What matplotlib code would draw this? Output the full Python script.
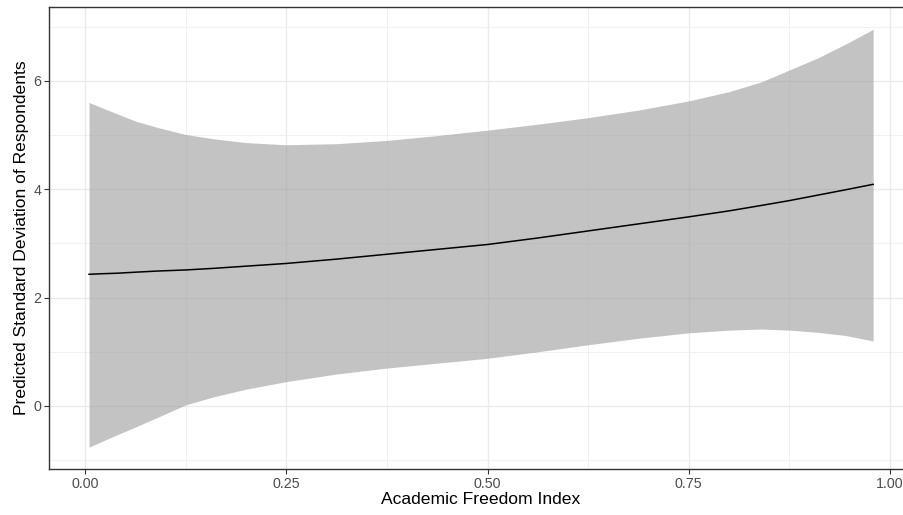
import matplotlib
matplotlib.use("Agg")
import matplotlib.pyplot as plt
from matplotlib.ticker import MultipleLocator

# Data
afi = [0.005, 0.02, 0.04, 0.064, 0.09, 0.125, 0.16, 0.2, 0.25, 0.3125, 0.375,
       0.4375, 0.5, 0.5625, 0.625, 0.6875, 0.75, 0.8, 0.84, 0.875, 0.91, 0.945, 0.979]
pred_sd = [2.43, 2.44, 2.45, 2.47, 2.49, 2.51, 2.54, 2.58, 2.63, 2.71, 2.80,
           2.89, 2.98, 3.10, 3.23, 3.36, 3.49, 3.60, 3.70, 3.79, 3.89, 3.99, 4.09]
upper = [5.60, 5.51, 5.39, 5.25, 5.14, 5.01, 4.93, 4.86, 4.82, 4.84, 4.90,
         4.99, 5.09, 5.20, 5.32, 5.46, 5.63, 5.80, 5.98, 6.20, 6.42, 6.68, 6.95]
lower = [-0.76, -0.66, -0.53, -0.38, -0.21, 0.02, 0.17, 0.31, 0.45, 0.59, 0.70,
         0.79, 0.88, 1.00, 1.13, 1.25, 1.35, 1.40, 1.42, 1.40, 1.36, 1.30, 1.20]

x_ticks = [0.0, 0.25, 0.5, 0.75, 1.0]
x_tick_labels = ["0.00", "0.25", "0.50", "0.75", "1.00"]
y_ticks = [0, 2, 4, 6]

plt.rcParams['font.family'] = ['Liberation Sans', 'DejaVu Sans']

W, H, DPI = 904, 515, 100
fig = plt.figure(figsize=(W / DPI, H / DPI), dpi=DPI)
left, right, top, bottom = 49.5, 912, 7, 468.7
ax = fig.add_axes([left / W, (H - bottom) / H, (right - left) / W, (bottom - top) / H])

ax.fill_between(afi, lower, upper, color="#999999", alpha=0.58, linewidth=0, zorder=2)
ax.plot(afi, pred_sd, color="black", lw=1.1, zorder=3)

ax.set_xlim(-0.0441, 1.0273)
ax.set_ylim(-1.157, 7.362)
ax.set_xticks(x_ticks)
ax.set_xticklabels(x_tick_labels)
ax.set_yticks(y_ticks)
ax.xaxis.set_minor_locator(MultipleLocator(0.125))
ax.yaxis.set_minor_locator(MultipleLocator(1))

ax.grid(True, which="major", color="#EBEBEB", lw=1.0, zorder=0)
ax.grid(True, which="minor", color="#EBEBEB", lw=0.5, zorder=0)
ax.set_axisbelow(True)

for s in ax.spines.values():
    s.set_color("#333333")
    s.set_linewidth(1.0)

ax.tick_params(axis="both", which="major", direction="out", length=3.5, width=0.8,
               color="#333333", labelcolor="#4D4D4D", labelsize=10.3, pad=2.5)
ax.tick_params(axis="both", which="minor", length=0)

ax.set_xlabel("Academic Freedom Index", fontsize=12.6, color="black", labelpad=1)
ax.set_ylabel("Predicted Standard Deviation of Respondents", fontsize=12.6, color="black", labelpad=3)

fig.savefig("out.png", dpi=DPI)
